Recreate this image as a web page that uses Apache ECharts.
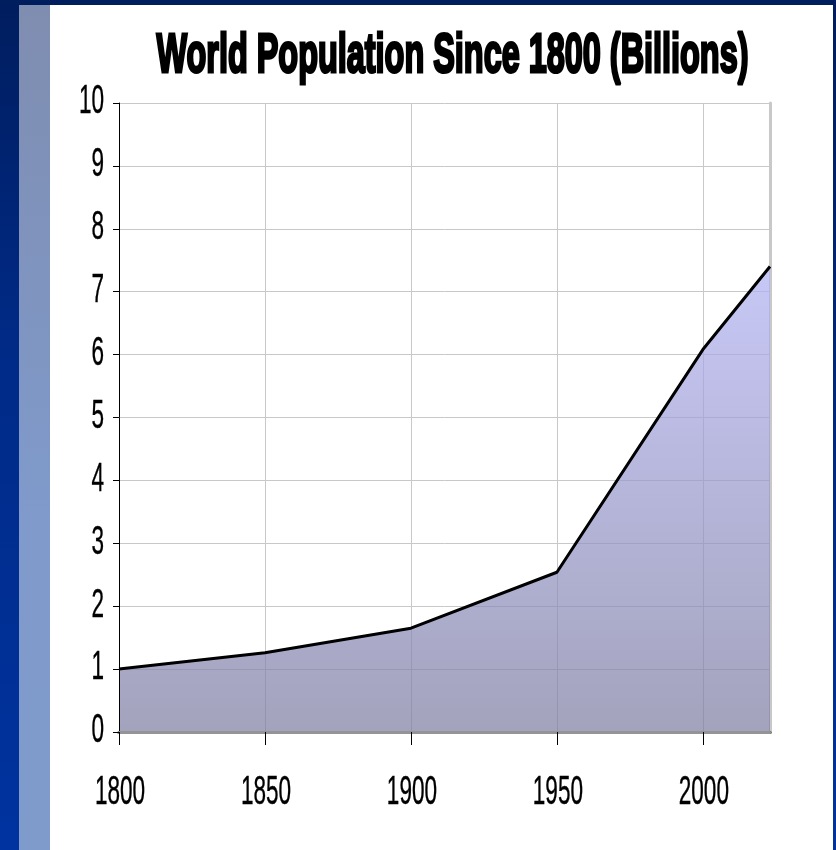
<!DOCTYPE html>
<html>
<head>
<meta charset="utf-8">
<title>World Population Since 1800</title>
<script src="https://cdn.jsdelivr.net/npm/echarts@6.0.0/dist/echarts.min.js"></script>
<style>
  html, body { margin: 0; padding: 0; background: #fff; }
  #wrap { position: relative; width: 836px; height: 850px; overflow: hidden; background: #fff; }
  .band-top { position: absolute; left: 0; top: 0; width: 836px; height: 5px; background: #001d5e; }
  .strip-dark { position: absolute; left: 0; top: 0; width: 19px; height: 850px; background: linear-gradient(#001d5e, #002a86 40%, #0033a0); }
  .strip-light { position: absolute; left: 19px; top: 5px; width: 31px; height: 845px; background: linear-gradient(#7f8db0, #7f9acb 60%, #7f9bcc); }
  .edge-right { position: absolute; left: 833px; top: 0; width: 3px; height: 850px; background: linear-gradient(#001d5e, #0033a0); }
  #chart { position: absolute; left: 0; top: 0; width: 836px; height: 850px; }
</style>
</head>
<body>
<div id="wrap">
  <div class="band-top"></div>
  <div class="strip-dark"></div>
  <div class="strip-light"></div>
  <div class="edge-right"></div>
  <div id="chart"></div>
</div>
<script>
// World population, in billions
const years = [1800, 1850, 1900, 1950, 2000, 2023];
const population = [1.0, 1.26, 1.65, 2.54, 6.08, 7.4];

// Axis ticks
const xTickLabels = [1800, 1850, 1900, 1950, 2000];
const yTickLabels = [0, 1, 2, 3, 4, 5, 6, 7, 8, 9, 10];

const titleText = 'World Population Since 1800 (Billions)';

const X_MIN = 1800, X_MAX = 2023, X_STEP = 50;
const Y_MIN = 0, Y_MAX = 10, Y_STEP = 1;

const chart = echarts.init(document.getElementById('chart'), null, { renderer: 'canvas' });

const gridColor = '#c8c8c8';

const option = {
  animation: false,
  backgroundColor: 'transparent',
  grid: { left: 119, right: 66, top: 103, bottom: 118, outerBoundsMode: 'none', containLabel: false },
  xAxis: [
    { // main axis line and ticks, drawn above the filled area
      type: 'value', min: X_MIN, max: X_MAX, interval: X_STEP, position: 'bottom', z: 3,
      axisLine: { show: true, lineStyle: { color: '#000', width: 3 } },
      axisTick: { show: true, length: 13, customValues: xTickLabels, lineStyle: { color: '#000', width: 1 } },
      axisLabel: { show: false },
      splitLine: { show: false }
    },
    { // top frame line
      type: 'value', min: X_MIN, max: X_MAX, interval: X_STEP, position: 'top', z: 3,
      axisLine: { show: true, lineStyle: { color: '#949494', width: 3 } },
      axisTick: { show: false }, axisLabel: { show: false }, splitLine: { show: false }
    },
    { // vertical gridlines, beneath the area
      type: 'value', min: X_MIN, max: X_MAX, interval: X_STEP, position: 'bottom', z: 0,
      axisLine: { show: false }, axisTick: { show: false }, axisLabel: { show: false },
      splitLine: { show: true, lineStyle: { color: gridColor, width: 1 } }
    }
  ],
  yAxis: [
    {
      type: 'value', min: Y_MIN, max: Y_MAX, interval: Y_STEP, position: 'left', z: 3,
      axisLine: { show: true, lineStyle: { color: '#000', width: 1 } },
      axisTick: { show: true, length: 6, lineStyle: { color: '#000', width: 1 } },
      axisLabel: { show: false },
      splitLine: { show: false }
    },
    { // right frame line
      type: 'value', min: Y_MIN, max: Y_MAX, interval: Y_STEP, position: 'right', z: 0,
      axisLine: { show: true, lineStyle: { color: gridColor, width: 3 } },
      axisTick: { show: false }, axisLabel: { show: false }, splitLine: { show: false }
    },
    { // horizontal gridlines
      type: 'value', min: Y_MIN, max: Y_MAX, interval: Y_STEP, position: 'left', z: 0,
      axisLine: { show: false }, axisTick: { show: false }, axisLabel: { show: false },
      splitLine: { show: true, lineStyle: { color: gridColor, width: 1 } }
    }
  ],
  series: [
    {
      type: 'line',
      xAxisIndex: 0,
      yAxisIndex: 0,
      data: years.map((yr, i) => [yr, population[i]]),
      symbol: 'none',
      showSymbol: false,
      clip: true,
      z: 2,
      lineStyle: { color: '#000', width: 3 },
      areaStyle: {
        opacity: 1,
        color: new echarts.graphic.LinearGradient(0, 0, 0, 1, [
          { offset: 0, color: 'rgba(177,177,243,0.71)' },
          { offset: 1, color: 'rgba(125,125,162,0.71)' }
        ])
      }
    }
  ]
};

chart.setOption(option);

// Condensed text: measure then squeeze horizontally
function measure(font, text) {
  const ctx = document.createElement('canvas').getContext('2d');
  ctx.font = font;
  return ctx.measureText(text).width;
}

const labelFont = '41px "Liberation Sans", Arial, sans-serif';
const titleFont = 'bold 55px "Liberation Sans", Arial, sans-serif';
const labelScale = 0.55;
const titleWidth = 592;
const titleScale = titleWidth / measure(titleFont, titleText);

const toPx = (x, y) => chart.convertToPixel({ xAxisIndex: 0, yAxisIndex: 0 }, [x, y]);
const origin = toPx(X_MIN, Y_MIN);

const graphics = [];

graphics.push({
  type: 'text',
  x: 452.5, y: 57,
  scaleX: titleScale,
  style: {
    text: titleText, font: titleFont, fill: '#000',
    stroke: '#000', lineWidth: 3,
    align: 'center', verticalAlign: 'middle'
  },
  z: 10
});

yTickLabels.forEach(v => {
  const p = toPx(X_MIN, v);
  graphics.push({
    type: 'text',
    x: origin[0] - 15, y: p[1] - 1,
    scaleX: labelScale,
    style: {
      text: String(v), font: labelFont, fill: '#000',
      stroke: '#000', lineWidth: 0.4,
      align: 'right', verticalAlign: 'middle'
    },
    z: 10
  });
});

xTickLabels.forEach(v => {
  const p = toPx(v, Y_MIN);
  graphics.push({
    type: 'text',
    x: p[0] + 1, y: origin[1] + 61,
    scaleX: labelScale,
    style: {
      text: String(v), font: labelFont, fill: '#000',
      stroke: '#000', lineWidth: 0.4,
      align: 'center', verticalAlign: 'middle'
    },
    z: 10
  });
});

chart.setOption({ graphic: graphics });
</script>
</body>
</html>
